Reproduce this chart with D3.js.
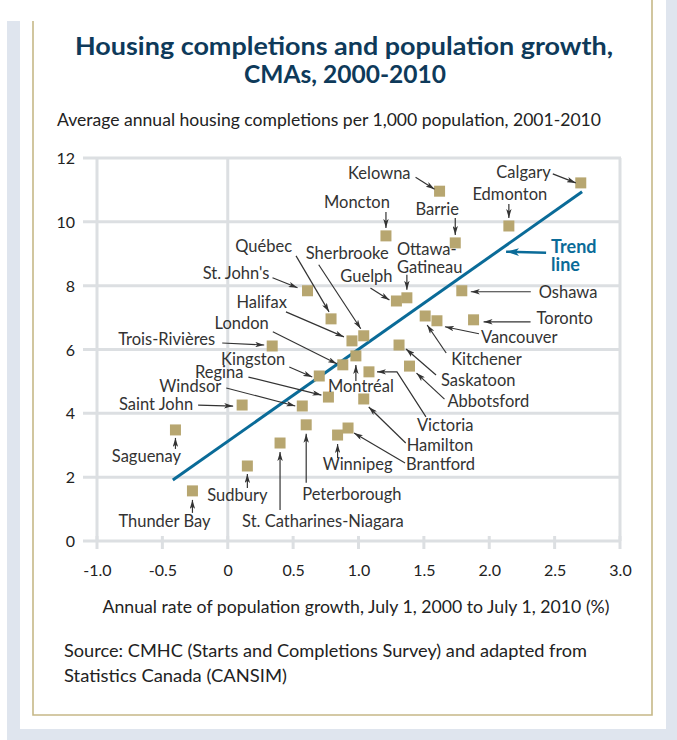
<!DOCTYPE html>
<html>
<head>
<meta charset="utf-8">
<script src="https://cdn.jsdelivr.net/npm/d3@7"></script>
<style>
  body { margin: 0; background: #fff; }
  svg { display: block; }
  text { font-family: Lato, "Open Sans", sans-serif; }
</style>
</head>
<body>
<script>
// Census metropolitan areas and their values
const cities = [
  "Calgary", "Kelowna", "Edmonton", "Moncton", "Barrie", "Ottawa-Gatineau", "Guelph",
  "Oshawa", "Toronto", "Vancouver", "Kitchener", "Saskatoon", "Abbotsford", "Victoria",
  "Hamilton", "Brantford", "Winnipeg", "Montréal", "Peterborough", "St. Catharines-Niagara",
  "Sudbury", "Thunder Bay", "Saguenay", "Saint John", "Windsor", "Regina", "Kingston",
  "Trois-Rivières", "London", "Halifax", "Québec", "St. John's", "Sherbrooke"
];
// Annual rate of population growth, 2000-2010 (%)
const growth = [
  2.70, 1.62, 2.15, 1.21, 1.74, 1.37, 1.29,
  1.79, 1.88, 1.60, 1.51, 1.31, 1.39, 1.08,
  1.04, 0.92, 0.84, 0.98, 0.60, 0.40,
  0.15, -0.27, -0.40, 0.11, 0.57, 0.77, 0.70,
  0.34, 0.88, 0.95, 0.79, 0.61, 1.04
];
// Average annual housing completions per 1,000 population, 2001-2010
const completions = [
  11.22, 10.96, 9.87, 9.56, 9.34, 7.62, 7.52,
  7.84, 6.93, 6.90, 7.05, 6.14, 5.48, 5.30,
  4.45, 3.54, 3.32, 5.80, 3.64, 3.07,
  2.35, 1.57, 3.48, 4.26, 4.23, 4.51, 5.17,
  6.11, 5.52, 6.27, 6.96, 7.84, 6.43
];
const xTicks = [-1, -0.5, 0, 0.5, 1, 1.5, 2, 2.5, 3];
const xTickLabels = ["-1.0", "-0.5", "0", "0.5", "1.0", "1.5", "2.0", "2.5", "3.0"];
const yTicks = [0, 2, 4, 6, 8, 10, 12];
const yTickLabels = ["0", "2", "4", "6", "8", "10", "12"];
// Trend line end points
const trendX = [-0.42, 2.71];
const trendY = [1.91, 10.94];

// Callout placement relative to each square: text anchor, text offset (centre line),
// arrow path offsets from tail to tip
const callouts = {
  "Calgary":               { a: "end",    t: [-30, -10], p: [[-28, -9], [-5, 0]] },
  "Kelowna":               { a: "end",    t: [-29, -18], p: [[-24, -14], [-5, -2]] },
  "Edmonton":              { a: "middle", t: [1, -31],   p: [[0, -22], [0, -8]] },
  "Moncton":               { a: "middle", t: [-29, -33], p: [[0, -24], [0, -8]] },
  "Barrie":                { a: "middle", t: [-18, -33], p: [[0, -25], [0, -8]] },
  "Ottawa-Gatineau":       { a: "start",  t: [-10, -48], lines: ["Ottawa-", "Gatineau"], p: [[0, -23], [0, -8]] },
  "Guelph":                { a: "middle", t: [-30, -24], p: [[-26, -13], [-7, -1]] },
  "Oshawa":                { a: "start",  t: [77, 2],    p: [[69, 1], [9, 1]] },
  "Toronto":               { a: "start",  t: [63, -1],   p: [[57, 2], [10, 2]] },
  "Vancouver":             { a: "start",  t: [44, 17],   p: [[42, 13], [8, 6]] },
  "Kitchener":             { a: "start",  t: [26, 44],   p: [[21, 37], [2, 9]] },
  "Saskatoon":             { a: "start",  t: [42, 35],   p: [[37, 30], [7, 4]] },
  "Abbotsford":            { a: "start",  t: [38, 35],   p: [[35, 33], [7, 7]] },
  "Victoria":              { a: "start",  t: [48, 54],   p: [[57, 45], [28, 0], [8, 0]] },
  "Hamilton":              { a: "start",  t: [43, 47],   p: [[42, 44], [5, 8]] },
  "Brantford":             { a: "start",  t: [58, 36],   p: [[57, 35], [6, 5]] },
  "Winnipeg":              { a: "middle", t: [20, 29],   p: [[0, 23], [0, 9]] },
  "Montréal":              { a: "middle", t: [5, 31],    p: [[0, 25], [0, 9]] },
  "Peterborough":          { a: "start",  t: [-4, 70],   p: [[0, 58], [0, 9]] },
  "St. Catharines-Niagara":{ a: "start",  t: [-38, 78],  p: [[0, 67], [0, 9]] },
  "Sudbury":               { a: "middle", t: [-10, 30],  p: [[0, 22], [0, 8]] },
  "Thunder Bay":           { a: "middle", t: [-28, 31],  p: [[0, 22], [0, 9]] },
  "Saguenay":              { a: "middle", t: [-29, 27],  p: [[0, 19], [0, 8]] },
  "Saint John":            { a: "end",    t: [-49, -1],  p: [[-44, 0], [-9, 1]] },
  "Windsor":               { a: "end",    t: [-81, -19], p: [[-76, -18], [-7, 0]] },
  "Regina":                { a: "end",    t: [-85, -25], p: [[-80, -20], [-7, -2]] },
  "Kingston":              { a: "end",    t: [-34, -16], p: [[-30, -9], [-7, 1]] },
  "Trois-Rivières":        { a: "end",    t: [-57, -6],  p: [[-50, -3], [-8, -1]] },
  "London":                { a: "end",    t: [-74, -41], p: [[-70, -33], [-6, -1]] },
  "Halifax":               { a: "end",    t: [-65, -38], p: [[-66, -29], [-8, -4]] },
  "Québec":                { a: "end",    t: [-39, -72], p: [[-35, -63], [-2, -7]] },
  "St. John's":            { a: "end",    t: [-38, -17], p: [[-35, -13], [-10, -3]] },
  "Sherbrooke":            { a: "start",  t: [-58, -82], p: [[-45, -71], [-3, -7]] }
};

const W = 677, H = 740;
const svg = d3.select("body").append("svg").attr("width", W).attr("height", H);

// Page frame
const pageGrey = "#dfe5ee", tan = "#c6b888";
svg.append("rect").attr("x", 7).attr("y", 21).attr("width", W - 7).attr("height", H - 21).attr("fill", pageGrey);
svg.append("rect").attr("x", 666).attr("y", 0).attr("width", 11).attr("height", 21).attr("fill", pageGrey);
svg.append("rect").attr("x", 20).attr("y", 0).attr("width", 646).attr("height", 729).attr("fill", "#fff");
svg.append("path")
  .attr("d", "M33,21 V715 H652 V0")
  .attr("fill", "none").attr("stroke", tan).attr("stroke-width", 1.6);

// Text helper: fixed run length keeps long lines at their set width
function line(xp, yp, str, size, len, opts = {}) {
  const t = svg.append("text").attr("x", xp).attr("y", yp)
    .attr("font-size", size).attr("fill", opts.fill || "#222")
    .attr("font-weight", opts.weight || 400)
    .attr("text-anchor", opts.anchor || "start")
    .text(str);
  if (len) t.attr("textLength", len).attr("lengthAdjust", "spacingAndGlyphs");
  return t;
}

// Title
const titleColor = "#0e3a5a";
line(344, 55, "Housing completions and population growth,", 25, 538, { fill: titleColor, weight: 700, anchor: "middle" });
line(345, 83, "CMAs, 2000-2010", 25, 202, { fill: titleColor, weight: 700, anchor: "middle" });

line(57, 126, "Average annual housing completions per 1,000 population, 2001-2010", 16.5, 544);

// Scales
const x = d3.scaleLinear().domain([-1, 3]).range([97, 620]);
const y = d3.scaleLinear().domain([0, 12]).range([541, 158]);

const gridColor = "#dcdfe2";
const grid = svg.append("g");
grid.selectAll("line.h").data(yTicks).join("line")
  .attr("x1", 83).attr("x2", x(3) + 1)
  .attr("y1", d => y(d)).attr("y2", d => y(d))
  .attr("stroke", gridColor).attr("stroke-width", 3);
grid.selectAll("line.v").data([-1, 0, 3]).join("line")
  .attr("x1", d => x(d)).attr("x2", d => x(d))
  .attr("y1", y(12)).attr("y2", y(0))
  .attr("stroke", gridColor).attr("stroke-width", 3);
grid.selectAll("line.t").data(xTicks).join("line")
  .attr("x1", d => x(d)).attr("x2", d => x(d))
  .attr("y1", y(0) - 5).attr("y2", y(0) + 8)
  .attr("stroke", gridColor).attr("stroke-width", 3);

// Axes (labels only)
const xAxis = d3.axisBottom(x).tickValues(xTicks).tickFormat((d, i) => xTickLabels[i]).tickSize(0).tickPadding(0);
const gx = svg.append("g").attr("transform", `translate(0,${y(0) + 35})`).call(xAxis);
gx.select(".domain").remove();
gx.selectAll("text").attr("font-size", 16).attr("fill", "#222").attr("dy", 0)
  .attr("font-family", "Lato, 'Open Sans', sans-serif");

const yAxis = d3.axisLeft(y).tickValues(yTicks).tickFormat((d, i) => yTickLabels[i]).tickSize(0).tickPadding(0);
const gy = svg.append("g").attr("transform", `translate(75,0)`).call(yAxis);
gy.select(".domain").remove();
gy.selectAll("text").attr("font-size", 16).attr("fill", "#222").attr("dy", "0.35em")
  .attr("font-family", "Lato, 'Open Sans', sans-serif");

line(356, 613, "Annual rate of population growth, July 1, 2000 to July 1, 2010 (%)", 16.5, 507, { anchor: "middle" });

line(64, 657, "Source: CMHC (Starts and Completions Survey) and adapted from", 16.5, 523);
line(64, 682, "Statistics Canada (CANSIM)", 16.5, 223);

// Arrow markers
const defs = svg.append("defs");
defs.append("marker").attr("id", "arr").attr("viewBox", "0 0 10 6")
  .attr("refX", 10).attr("refY", 3).attr("markerWidth", 9).attr("markerHeight", 5.5)
  .attr("markerUnits", "userSpaceOnUse").attr("orient", "auto")
  .append("path").attr("d", "M0,0 L10,3 L0,6 L2.5,3 Z").attr("fill", "#333");
defs.append("marker").attr("id", "arrBlue").attr("viewBox", "0 0 10 6")
  .attr("refX", 10).attr("refY", 3).attr("markerWidth", 13).attr("markerHeight", 8)
  .attr("markerUnits", "userSpaceOnUse").attr("orient", "auto")
  .append("path").attr("d", "M0,0 L10,3 L0,6 L2.5,3 Z").attr("fill", "#0a6b98");

// Trend line
const trendColor = "#0a6b98";
const trend = d3.line().x(d => x(d[0])).y(d => y(d[1]));
svg.append("path").datum(d3.zip(trendX, trendY)).attr("d", trend)
  .attr("fill", "none").attr("stroke", trendColor).attr("stroke-width", 3);

// Trend line callout, anchored to a point on the line
const tAt = 2.06;
const tPoint = [x(tAt), y(trendY[0] + (tAt - trendX[0]) * (trendY[1] - trendY[0]) / (trendX[1] - trendX[0]))];
svg.append("line")
  .attr("x1", tPoint[0] + 49).attr("y1", tPoint[1] + 1)
  .attr("x2", tPoint[0] + 9).attr("y2", tPoint[1])
  .attr("stroke", trendColor).attr("stroke-width", 2.5).attr("marker-end", "url(#arrBlue)");
svg.append("text").attr("x", tPoint[0] + 54).attr("y", tPoint[1] + 1)
  .attr("fill", trendColor).attr("font-size", 18).attr("font-weight", 700).text("Trend");
svg.append("text").attr("x", tPoint[0] + 54).attr("y", tPoint[1] + 19)
  .attr("fill", trendColor).attr("font-size", 18).attr("font-weight", 700).text("line");

// Data points
const data = cities.map((c, i) => ({ name: c, gx: growth[i], cy: completions[i] }));
const sq = 11;
svg.append("g").selectAll("rect").data(data).join("rect")
  .attr("x", d => x(d.gx) - sq / 2).attr("y", d => y(d.cy) - sq / 2)
  .attr("width", sq).attr("height", sq).attr("fill", "#b7a670");

// Callouts
const lab = svg.append("g");
data.forEach(d => {
  const c = callouts[d.name];
  const px = x(d.gx), py = y(d.cy);
  lab.append("path")
    .attr("d", d3.line()(c.p.map(o => [px + o[0], py + o[1]])))
    .attr("fill", "none").attr("stroke", "#333").attr("stroke-width", 1.2)
    .attr("marker-end", "url(#arr)");
  const lines = c.lines || [d.name];
  const t = lab.append("text").attr("font-size", 16.5).attr("fill", "#333").attr("text-anchor", c.a);
  lines.forEach((ln, k) => {
    t.append("tspan").attr("x", px + c.t[0]).attr("y", py + c.t[1] + 5.5 + k * 18).text(ln);
  });
});
</script>
</body>
</html>
